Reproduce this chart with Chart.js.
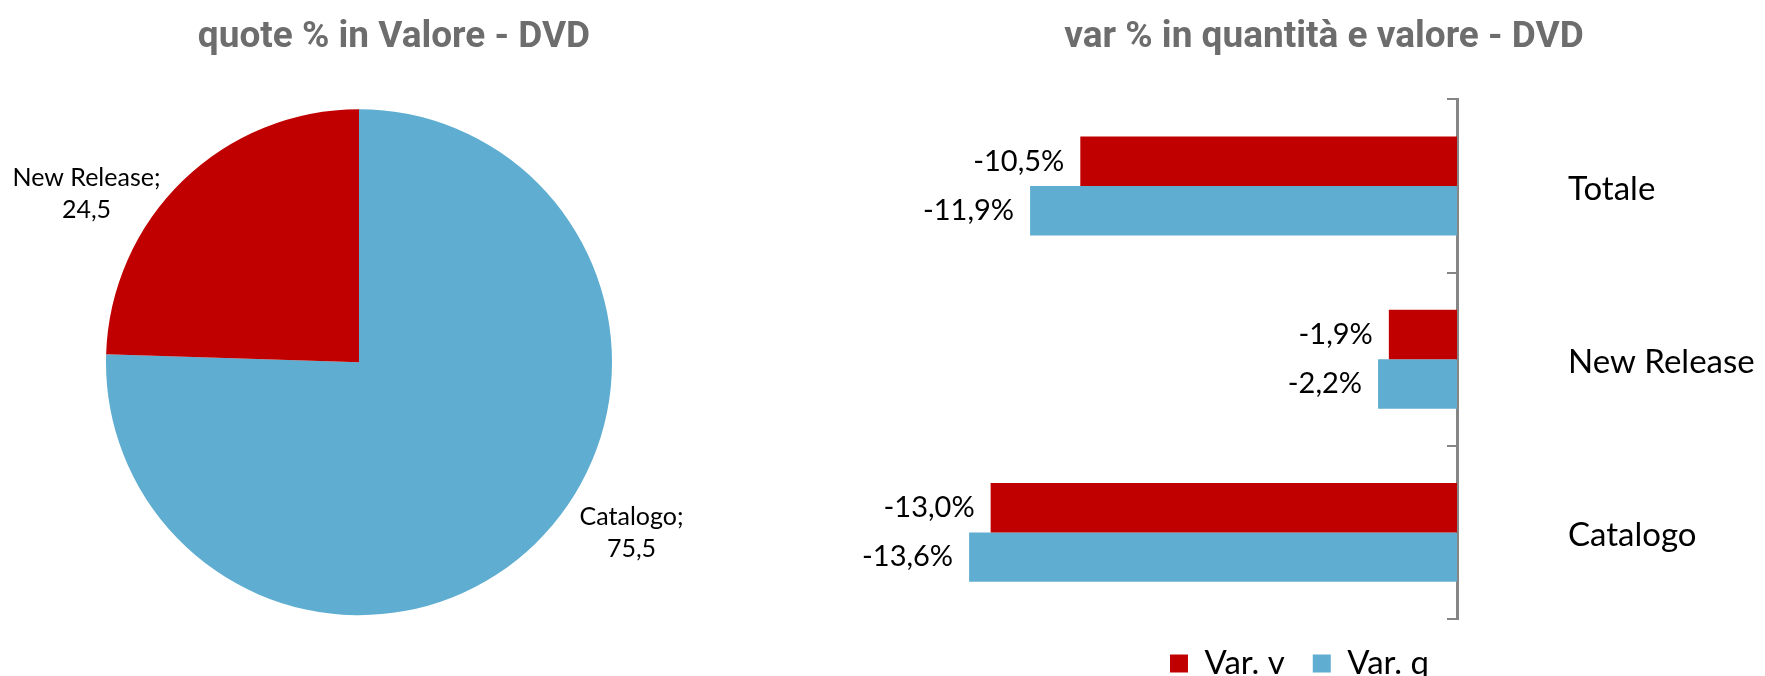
<!DOCTYPE html>
<html>
<head>
<meta charset="utf-8">
<script src="https://cdn.jsdelivr.net/npm/chart.js@4.4.1/dist/chart.umd.min.js"></script>
<style>
  html, body { margin: 0; padding: 0; background: #fff; overflow: hidden; }
  body { width: 1765px; height: 676px; position: relative; }
  #pieBox { position: absolute; left: 0; top: 0; width: 788px; height: 676px; }
  #barBox { position: absolute; left: 760px; top: 0; width: 1005px; height: 690px; }
</style>
</head>
<body>
<div id="pieBox"><canvas id="pieChart"></canvas></div>
<div id="barBox"><canvas id="barChart"></canvas></div>
<script>
// quote % in valore
const pieLabels = ['Catalogo', 'New Release'];
const pieValues = [75.5, 24.5];

// var % quantità / valore
const barCategories = ['Totale', 'New Release', 'Catalogo'];
const varV = [-10.5, -1.9, -13.0];
const varQ = [-11.9, -2.2, -13.6];

const RED = '#C00000';
const BLUE = '#5FADD1';
const TITLE_GRAY = '#6D6D6D';
const titleFont = { family: 'Roboto, "DejaVu Sans Condensed", sans-serif', size: 37, weight: 'bold' };
const textFamily = 'Lato, "Open Sans", sans-serif';

const fmt = (v) => v.toFixed(1).replace('.', ',');

// labels outside the slices, "Name;" over the value
const pieLabelPlugin = {
  id: 'pieLabels',
  afterDatasetsDraw(chart) {
    const ctx = chart.ctx;
    const meta = chart.getDatasetMeta(0);
    ctx.save();
    ctx.font = '25px ' + textFamily;
    ctx.fillStyle = '#000';
    ctx.textAlign = 'center';
    ctx.textBaseline = 'middle';
    meta.data.forEach((arc, i) => {
      const p = arc.getProps(['x', 'y', 'startAngle', 'endAngle', 'outerRadius'], true);
      const a = (p.startAngle + p.endAngle) / 2 - 14 * Math.PI / 180;
      const r = p.outerRadius + 68;
      const cx = p.x + Math.cos(a) * r;
      const cy = p.y + Math.sin(a) * r + 1;
      ctx.fillText(chart.data.labels[i] + ';', cx, cy - 16);
      ctx.fillText(fmt(chart.data.datasets[0].data[i]), cx, cy + 16);
    });
    ctx.restore();
  }
};

// value labels at the end of each bar
const barLabelPlugin = {
  id: 'barLabels',
  afterDatasetsDraw(chart) {
    const ctx = chart.ctx;
    ctx.save();
    ctx.font = '29px ' + textFamily;
    ctx.fillStyle = '#000';
    ctx.textAlign = 'right';
    ctx.textBaseline = 'middle';
    chart.data.datasets.forEach((ds, di) => {
      chart.getDatasetMeta(di).data.forEach((bar, i) => {
        ctx.fillText(fmt(ds.data[i]) + '%', bar.x - 16, bar.y);
      });
    });
    ctx.restore();
  }
};

new Chart(document.getElementById('pieChart'), {
  type: 'pie',
  data: {
    labels: pieLabels,
    datasets: [{
      data: pieValues,
      backgroundColor: [BLUE, RED],
      borderWidth: 0
    }]
  },
  options: {
    responsive: true,
    maintainAspectRatio: false,
    animation: false,
    layout: { padding: { left: 106, right: 106, top: 0, bottom: 51 } },
    scales: {
      // empty box on the right so the pie sits left of the title centre
      spacer: {
        type: 'linear',
        position: 'right',
        grid: { display: false },
        border: { display: false },
        ticks: { display: false },
        afterFit(scale) { scale.width = 70; }
      }
    },
    plugins: {
      legend: { display: false },
      tooltip: { enabled: false },
      title: {
        display: true,
        text: 'quote % in Valore - DVD',
        color: TITLE_GRAY,
        font: titleFont,
        padding: { top: 16, bottom: 39 }
      }
    }
  },
  plugins: [pieLabelPlugin]
});

new Chart(document.getElementById('barChart'), {
  type: 'bar',
  data: {
    labels: barCategories,
    datasets: [
      { label: 'Var. v', data: varV, backgroundColor: RED },
      { label: 'Var. q', data: varQ, backgroundColor: BLUE }
    ]
  },
  options: {
    indexAxis: 'y',
    responsive: true,
    maintainAspectRatio: false,
    animation: false,
    datasets: { bar: { categoryPercentage: 0.571, barPercentage: 1.0 } },
    layout: { padding: { left: 123, right: 0, top: 0, bottom: 0 } },
    scales: {
      x: { display: false, min: -16, max: 0 },
      y: {
        position: 'right',
        grid: { drawOnChartArea: false, tickLength: -10, color: '#868686', lineWidth: 2 },
        border: { color: '#868686', width: 3 },
        ticks: { padding: 121, labelOffset: 3, color: '#000', font: { family: textFamily, size: 33 } },
        afterFit(scale) {
          scale.width = 308;
          scale.paddingTop = 0;
          scale.paddingBottom = 0;
        }
      }
    },
    plugins: {
      tooltip: { enabled: false },
      title: {
        display: true,
        text: 'var % in quantità e valore - DVD',
        color: TITLE_GRAY,
        font: titleFont,
        padding: { top: 16, bottom: 39 }
      },
      legend: {
        position: 'bottom',
        fullSize: false,
        align: 'end',
        labels: {
          boxWidth: 18,
          boxHeight: 18,
          padding: 28,
          color: '#000',
          font: { family: textFamily, size: 33 }
        }
      }
    }
  },
  plugins: [barLabelPlugin]
});
</script>
</body>
</html>
